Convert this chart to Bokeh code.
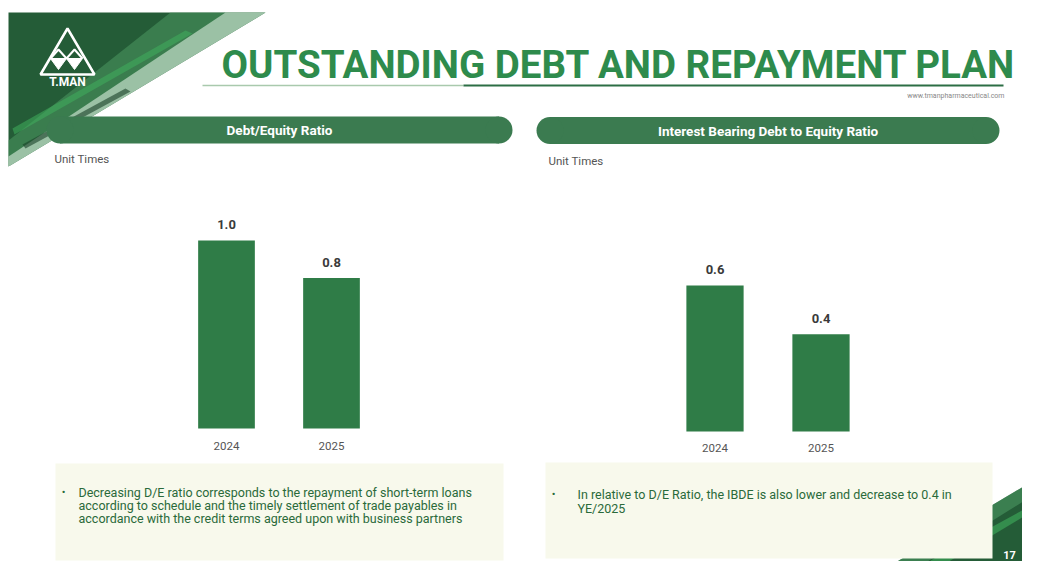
from bokeh.plotting import figure
from bokeh.models import Range1d
from bokeh.core.properties import value
from bokeh.embed import file_html
from bokeh.resources import INLINE

# ---- data ----
years = [2024, 2025]
year_labels = ["2024", "2025"]
de_ratio = [1.0, 0.8]
ibde_ratio = [0.6, 0.4]
title = "OUTSTANDING DEBT AND REPAYMENT PLAN"
left_header = "Debt/Equity Ratio"
right_header = "Interest Bearing Debt to Equity Ratio"
unit_label = "Unit  Times"
left_note = ["Decreasing D/E ratio corresponds to the repayment of short-term loans",
             "according to schedule and the timely settlement of trade payables in",
             "accordance with the credit terms agreed upon with business partners"]
right_note = ["In relative to D/E Ratio, the IBDE is also lower and decrease to 0.4 in",
              "YE/2025"]
page_no = "17"
url = "www.tmanpharmaceutical.com"

W, H = 1022, 561
F = value("Roboto")
BAR = "#2f7c47"
GREEN_TXT = "#2a6a3a"

p = figure(width=W, height=H, output_backend="svg", toolbar_location=None,
           x_range=Range1d(0, W), y_range=Range1d(H, 0),
           x_axis_type=None, y_axis_type=None, min_border=0)
p.outline_line_color = None
p.grid.visible = False
p.background_fill_color = "white"
p.border_fill_color = "white"

# value ranges for the two charts
p.extra_x_ranges = {
    "L": Range1d(2024 - 226 / 105, 2024 - 226 / 105 + W / 105),
    "R": Range1d(2024 - 714.5 / 106, 2024 - 714.5 / 106 + W / 106),
}
p.extra_y_ranges = {
    "L": Range1d((428 - H) / 188, 428 / 188),
    "R": Range1d((431 - H) / 243.3, 431 / 243.3),
}

# ---- decorations: top-left swoosh ----
p.patch([8, 265, 8], [12, 12, 166], fill_color="#245c37", line_color=None)
p.patch([170, 265, 8, 8], [12, 12, 166, 140], fill_color="#4f9d66", fill_alpha=0.5, line_color=None)
p.patch([225, 265, 8, 8], [12, 12, 166, 156], fill_color="#dcefe0", fill_alpha=0.6, line_color=None)
p.patch([12, 185, 192, 14], [128, 30, 33, 134], fill_color="#3fae5c", fill_alpha=0.55, line_color=None)
p.patch([22, 125, 130, 25], [144, 88, 91, 148], fill_color="#173f26", fill_alpha=0.6, line_color=None)

# logo
p.patch([67, 94, 40], [28, 74, 74], fill_color=None, line_color="white", line_width=2.5)
p.patch([50, 66, 58], [58, 58, 69], fill_color="white", line_color="white")
p.patch([66, 82, 74], [58, 58, 69], fill_color="white", line_color="white")
p.line([50, 58, 66, 74, 82], [58, 49, 58, 49, 58], line_color="white", line_width=2)
p.text([67], [81], text=["T.MAN"], text_font=F, text_font_style="bold", text_font_size="12px",
       text_color="white", text_align="center", text_baseline="middle")

# title
p.text([221], [64], text=[title], text_font=F, text_font_style="bold",
       text_font_size="38.5px", text_color="#2e8b4c", text_align="left", text_baseline="middle")
p.line([202, 463], [85, 85], line_color="#a9c9ad", line_width=1.5)
p.line([463, 1003], [85, 85], line_color="#2c6e45", line_width=2)
p.text([1004], [95], text=[url], text_font=F, text_font_size="7px", text_color="#888888",
       text_align="right", text_baseline="middle")

# header bars
for (x0, x1, yc, label) in [(46, 512, 129.5, left_header), (536, 999, 130, right_header)]:
    r = 13.5
    p.quad(left=[x0 + r], right=[x1 - r], top=[yc - r], bottom=[yc + r],
           fill_color="#3b7b50", line_color=None)
    p.circle([x0 + r, x1 - r], [yc, yc], radius=r, fill_color="#3b7b50", line_color=None)
    p.text([(x0 + x1) / 2], [yc], text=[label], text_font=F, text_font_style="bold",
           text_font_size="13.5px", text_color="white", text_align="center", text_baseline="middle")

p.text([54, 548], [158, 160], text=[unit_label, unit_label], text_font=F, text_font_size="11.5px",
       text_color="#555555", text_align="left", text_baseline="middle")

# ---- bars ----
for name, vals, yoff in [("L", de_ratio, 17), ("R", ibde_ratio, 16)]:
    p.vbar(x=years, top=vals, bottom=0, width=0.54, fill_color=BAR, line_color=None,
           x_range_name=name, y_range_name=name)
    p.text(x=years, y=vals, text=[f"{v:.1f}" for v in vals], x_range_name=name, y_range_name=name,
           y_offset=-16, text_font=F, text_font_style="bold", text_font_size="13px",
           text_color="#3a3a3a", text_align="center", text_baseline="middle")
    p.text(x=years, y=[0, 0], text=year_labels, x_range_name=name, y_range_name=name,
           y_offset=yoff, text_font=F, text_font_size="11.5px",
           text_color="#555555", text_align="center", text_baseline="middle")

# ---- bottom-right swoosh ----
p.patch([868, 1040, 1040], [578, 476, 578], fill_color="#245c37", line_color=None)
p.patch([868, 1040, 1040, 900], [578, 476, 490, 578], fill_color="#4f9d66", fill_alpha=0.55, line_color=None)
p.patch([930, 1040, 1040, 940], [560, 500, 506, 566], fill_color="#3fae5c", fill_alpha=0.6, line_color=None)

# ---- note boxes ----
p.quad(left=[55], right=[503], top=[463], bottom=[560], fill_color="#f8f9ec", line_color=None)
p.quad(left=[545], right=[992], top=[462], bottom=[558], fill_color="#f8f9ec", line_color=None)

p.text([63], [492], text=["•"], text_font=F, text_font_size="11px", text_color=GREEN_TXT,
       text_align="center", text_baseline="middle")
p.text([78, 78, 78], [492, 505, 518], text=left_note, text_font=F, text_font_size="12.5px",
       text_color=GREEN_TXT, text_align="left", text_baseline="middle")
p.text([553], [494], text=["•"], text_font=F, text_font_size="11px", text_color=GREEN_TXT,
       text_align="center", text_baseline="middle")
p.text([577, 577], [494, 508], text=right_note, text_font=F, text_font_size="12.5px",
       text_color=GREEN_TXT, text_align="left", text_baseline="middle")

p.text([1009], [558], text=[page_no], text_font=F, text_font_style="bold", text_font_size="11px",
       text_color="white", text_align="center", text_baseline="bottom")

open("out.html", "w").write(file_html(p, INLINE))
